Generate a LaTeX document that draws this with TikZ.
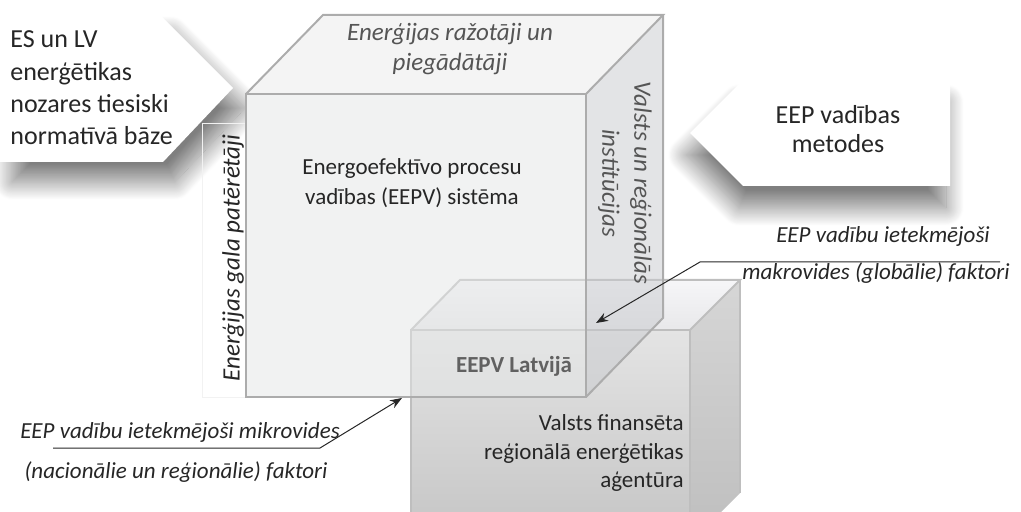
\documentclass[tikz,border=0pt]{standalone}
\usepackage{fontspec}
\setmainfont{Carlito}
\usepackage{xcolor}
\usetikzlibrary{calc,arrows.meta,shadows.blur}
\definecolor{edgeGray}{RGB}{172,172,172}
\definecolor{edgeLight}{RGB}{190,190,190}
\definecolor{frontFill}{RGB}{229,231,231}
\definecolor{sideFill}{RGB}{201,203,207}
\definecolor{topFill}{RGB}{235,235,235}
\definecolor{boxTopA}{RGB}{246,246,248}
\definecolor{boxTopB}{RGB}{232,232,234}
\definecolor{boxFrontA}{RGB}{228,228,228}
\definecolor{boxFrontB}{RGB}{196,196,196}
\definecolor{boxSideA}{RGB}{214,214,214}
\definecolor{boxSideB}{RGB}{190,190,190}
\definecolor{labelGray}{RGB}{85,85,85}
\definecolor{textDark}{RGB}{38,38,38}
\begin{document}
\begin{tikzpicture}[x=0.5pt,y=-0.5pt,line join=miter,
  chevron/.style={fill=white},
  cubeedge/.style={draw=edgeGray,line width=1pt},
  boxedge/.style={draw=edgeLight,line width=1pt},
  maintext/.style={text=textDark,font=\fontsize{11.5}{15}\selectfont,inner sep=0pt},
  arrowtext/.style={text=textDark,font=\fontsize{13}{16.15}\selectfont,inner sep=0pt},
  sidelabel/.style={text=labelGray,font=\itshape\fontsize{12.5}{15}\selectfont,align=center,inner sep=0pt},
  note/.style={text=textDark,font=\itshape\fontsize{11.5}{13}\selectfont,inner sep=0pt,anchor=base},
  leader/.style={draw=black!85,line width=0.5pt}]
\useasboundingbox (0,0) rectangle (1021,512);
% chevrons with soft shadows
\path[chevron,blur shadow={shadow xshift=6pt,shadow yshift=-10pt,shadow blur radius=9pt,shadow blur steps=30,shadow opacity=50}]
  (0,14) -- (159,14) -- (233,88) -- (163,162) -- (0,162) -- cycle;
\path[chevron,blur shadow={shadow xshift=-2pt,shadow yshift=-11pt,shadow blur radius=9pt,shadow blur steps=30,shadow opacity=50}]
  (950,80) -- (743,80) -- (690,133) -- (743,186) -- (950,186) -- cycle;
\node[arrowtext,align=left,anchor=west] (lawBase) at (10,88)
  {ES un LV\\enerģētikas\\nozares tiesiski\\normatīvā bāze};
\node[arrowtext,align=center,font=\fontsize{13}{14.5}\selectfont] (methods) at (838,129)
  {EEP vadības\\metodes};
% big cube corners
\coordinate (A) at (246,94);
\coordinate (B) at (586,94);
\coordinate (C) at (586,397);
\coordinate (D) at (246,397);
\coordinate (E) at (323,15);
\coordinate (F) at (663,15);
\coordinate (G) at (663,318);
\fill[white] (A) -- (E) -- (F) -- (G) -- (C) -- (D) -- cycle;
\draw[black!5] (202,123) rectangle (245,397);
% small cube corners
\coordinate (P) at (411,330);
\coordinate (Q) at (690,330);
\coordinate (R) at (690,543);
\coordinate (S) at (411,543);
\coordinate (T) at (460,280);
\coordinate (U) at (740,280);
\coordinate (V) at (740,493);
\begin{scope}
  \clip (0,0) rectangle (1021,512);
  \shade[top color=boxFrontA,bottom color=boxFrontB] (P) -- (Q) -- (R) -- (S) -- cycle;
  \shade[top color=boxSideA,bottom color=boxSideB] (Q) -- (U) -- (V) -- (R) -- cycle;
  \shade[top color=boxTopA,bottom color=boxTopB] (P) -- (T) -- (U) -- (Q) -- cycle;
  \draw[boxedge] (S) -- (P) -- (Q) -- (R);
  \draw[boxedge] (P) -- (T) -- (U) -- (Q);
  \draw[boxedge] (U) -- (V);
\end{scope}
% big cube faces, see-through
\fill[frontFill,fill opacity=.5] (A) rectangle (C);
\fill[sideFill,fill opacity=.5] (B) -- (F) -- (G) -- (C) -- cycle;
\fill[topFill,fill opacity=.5] (A) -- (E) -- (F) -- (B) -- cycle;
\draw[cubeedge] (D) -- (A) -- (B) -- (C) -- cycle;
\draw[cubeedge] (A) -- (E) -- (F) -- (B);
\draw[cubeedge] (F) -- (G) -- (C);
\draw[edgeGray,line width=1.4pt] (A) -- (B);
% labels of the cube
\node[sidelabel] (producers) at (450,49) {Enerģijas ražotāji un\\piegādātāji};
\node[sidelabel,rotate=-90,font=\itshape\fontsize{12.5}{16}\selectfont] (institutions) at (625,183)
  {Valsts un reģionālās\\institūcijas};
\node[sidelabel,rotate=90,text=textDark] (consumers) at (233,258) {Enerģijas gala patērētāji};
\node[maintext,align=center] (eepv) at (412,183.5)
  {Energoefektīvo procesu\\vadības (EEPV) sistēma};
\node[inner sep=0pt,text=black!62,font=\bfseries\fontsize{11.5}{13}\selectfont] (latvia) at (514,366.5) {EEPV Latvijā};
\node[maintext,align=right,anchor=east,font=\fontsize{11.5}{14.25}\selectfont] (agency) at (684,453)
  {Valsts finansēta\\reģionālā enerģētikas\\aģentūra};
% influence notes
\node[note] (macroTop) at (883,243) {EEP vadību ietekmējoši};
\node[note] (macroBot) at (876,280) {makrovides (globālie) faktori};
\node[note] (microTop) at (180,438) {EEP vadību ietekmējoši mikrovides};
\node[note] (microBot) at (176,478) {(nacionālie un reģionālie) faktori};
\coordinate (macroR) at (1000,262);
\coordinate (macroL) at (700,262);
\coordinate (macroTip) at (596,323);
\coordinate (microL) at (53,448);
\coordinate (microR) at (320,448);
\coordinate (microTip) at (402,398);
\draw[leader,-{Stealth[length=6pt,width=4.5pt]}] (macroR) -- (macroL) -- (macroTip);
\draw[leader,-{Stealth[length=6pt,width=4.5pt]}] (microL) -- (microR) -- (microTip);
\end{tikzpicture}
\end{document}
